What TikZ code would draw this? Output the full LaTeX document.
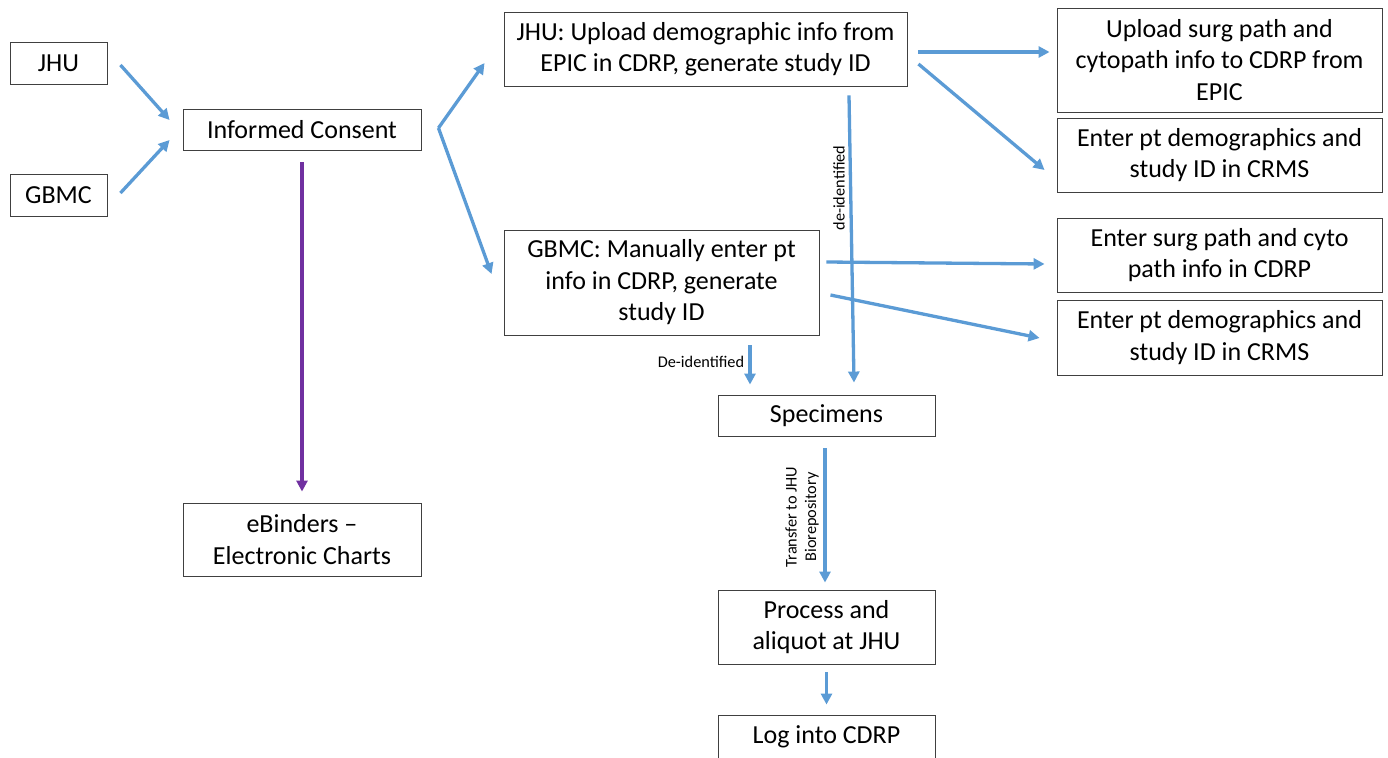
\documentclass[tikz,border=0pt]{standalone}
\usepackage{fontspec}
\setmainfont{Carlito}
\usetikzlibrary{arrows.meta}
\definecolor{arrblue}{RGB}{91,155,213}
\definecolor{arrpurple}{RGB}{112,48,160}
\definecolor{boxgray}{RGB}{64,64,64}
\begin{document}
\begin{tikzpicture}[x=1pt,y=-1pt,
  box/.style={draw=boxgray,line width=0.9pt,align=center,inner sep=0pt,
    font=\fontsize{26}{31.5}\selectfont},
  arr/.style={draw=arrblue,line width=3.3pt,-{Triangle[length=11pt,width=11pt]}},
  parr/.style={draw=arrpurple,line width=3.3pt,-{Triangle[length=11pt,width=11pt]}},
  lbl/.style={font=\fontsize{16.3}{19.5}\selectfont,align=center,inner sep=0pt}]
\useasboundingbox (0,0) rectangle (1388,757);
\clip (0,0) rectangle (1388,757);
\node[box,minimum width=97pt,minimum height=42pt] (jhu) at (58.5,63) {JHU};
\node[box,minimum width=97pt,minimum height=42pt] (gbmc) at (58.5,195) {GBMC};
\node[box,minimum width=238pt,minimum height=41pt] (ic) at (302,129.5) {Informed Consent};
\node[box,minimum width=238pt,minimum height=73pt] (ebind) at (302,539.5) {eBinders --\\Electronic Charts};
\node[box,minimum width=403pt,minimum height=74pt] (jhuup) at (705.5,49) {JHU: Upload demographic info from\\EPIC in CDRP, generate study ID};
\node[box,minimum width=315pt,minimum height=105pt] (gbmcm) at (661.5,282.5) {GBMC: Manually enter pt\\info in CDRP, generate\\study ID};
\node[box,minimum width=325pt,minimum height=104pt] (upsurg) at (1219.5,60) {Upload surg path and\\cytopath info to CDRP from\\EPIC};
\node[box,minimum width=325pt,minimum height=74pt] (demoa) at (1219.5,155) {Enter pt demographics and\\study ID in CRMS};
\node[box,minimum width=325pt,minimum height=74pt] (surgb) at (1219.5,255) {Enter surg path and cyto\\path info in CDRP};
\node[box,minimum width=325pt,minimum height=75pt] (demob) at (1219.5,337.5) {Enter pt demographics and\\study ID in CRMS};
\node[box,minimum width=217pt,minimum height=41pt] (spec) at (826.5,415.5) {Specimens};
\node[box,minimum width=217pt,minimum height=74pt] (proc) at (826.5,627) {Process and\\aliquot at JHU};
\node[box,minimum width=217pt,minimum height=64pt,text depth=0pt] (logc) at (826.5,747) {};
\node[font=\fontsize{26}{31.5}\selectfont,inner sep=0pt] (logt) at (826.5,737) {Log into CDRP};

\draw[arr] ([shift={(13,2)}]jhu.east) -- ([shift={(-13,-9.5)}]ic.west);
\draw[arr] ([shift={(13,-2)}]gbmc.east) -- ([shift={(-13,10.5)}]ic.west);
\draw[parr] ([shift={(0,12)}]ic.south) -- ([shift={(0,-11)}]ebind.north);
\coordinate (fork) at ([shift={(17,-1.5)}]ic.east);
\draw[arr] (fork) -- ([shift={(-19,14)}]jhuup.west);
\draw[arr] (fork) -- ([shift={(-12,-8.5)}]gbmcm.west);
\draw[arr] ([shift={(11,3)}]jhuup.east) -- ([shift={(-7,-8)}]upsurg.west);
\draw[arr] ([shift={(11,15)}]jhuup.east) -- ([shift={(-12,15)}]demoa.west);
\draw[arr] ([shift={(7,-20.5)}]gbmcm.east) -- ([shift={(-12,9)}]surgb.west);
\draw[arr] ([shift={(11,12.5)}]gbmcm.east) -- ([shift={(-17,0.5)}]demob.west);
\draw[arr] ([shift={(143.5,9)}]jhuup.south) -- ([shift={(27.5,-12)}]spec.north);
\draw[arr] ([shift={(88.5,10)}]gbmcm.south) -- ([shift={(-76.5,-10)}]spec.north);
\draw[arr] ([shift={(-1.5,12)}]spec.south) -- ([shift={(-1.5,-7)}]proc.north);
\draw[arr] ([shift={(0,8)}]proc.south) -- ([shift={(0,-10)}]logc.north);

\node[lbl,rotate=90] (lde) at (839,188) {de-identified};
\node[lbl] (lDe) at (701,362) {De-identified};
\node[lbl,rotate=90] (ltr) at (802,517) {Transfer to JHU\\Biorepository};
\end{tikzpicture}
\end{document}
